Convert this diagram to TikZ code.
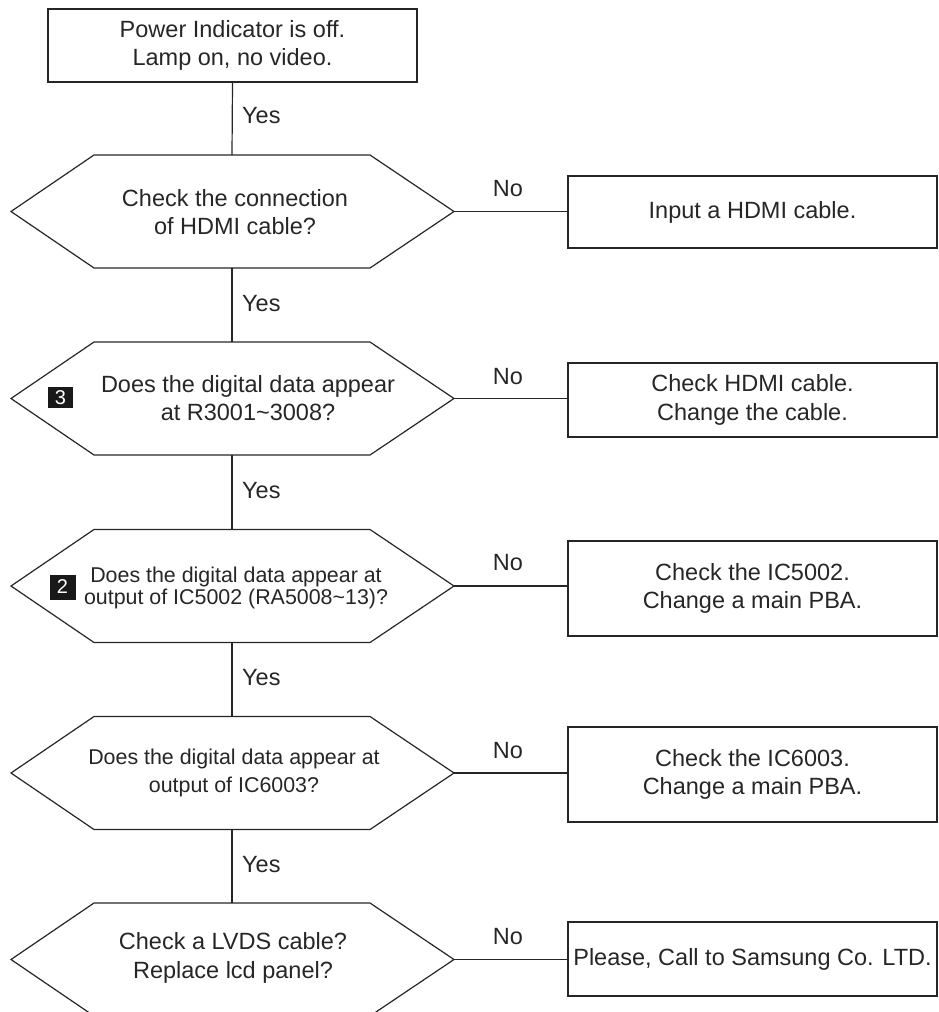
\documentclass[tikz,border=0pt]{standalone}
\usepackage{fontspec}
\setmainfont{Liberation Sans}
\definecolor{ink}{gray}{0.15}
\newcommand{\bigf}{\fontsize{23.5}{28.5}\selectfont}
\newcommand{\smf}{\fontsize{21.4}{22}\selectfont}
\newcommand{\smfb}{\fontsize{21.4}{28.3}\selectfont}
\newcommand{\mkhex}[2]{%
  \coordinate (#1-l) at (11,#2);
  \coordinate (#1-r) at (454,#2);
  \coordinate (#1-t) at (232,{#2-56.5});
  \coordinate (#1-b) at (232,{#2+56.5});
  \draw[line] (#1-l) -- ++(83,-56.5) -- ++(276,0) -- (#1-r) -- ++(-84,56.5) -- ++(-276,0) -- cycle;
}
\tikzset{
  line/.style={draw=ink, line width=1.2pt},
  txt/.style={text=ink, align=center, inner sep=0pt, font=\bigf},
  box/.style={draw=ink, line width=1.2pt, text=ink, align=center, inner sep=0pt, font=\bigf, minimum width=369pt},
  lbl/.style={text=ink, inner sep=0pt, font=\bigf},
  badge/.style={fill=black!90, text=white, inner sep=0pt, font=\fontsize{20}{20}\selectfont}
}
\begin{document}
\begin{tikzpicture}[x=1pt,y=-1pt]
\useasboundingbox (0,0) rectangle (938,1012);
\clip (0,0) rectangle (938,1012);

% start box
\node[box, minimum height=73pt] (start) at (232.5,45.5) {Power Indicator is off.\\Lamp on, no video.};

% decisions
\mkhex{h1}{211.5}
\mkhex{h2}{398.5}
\mkhex{h3}{586}
\mkhex{h4}{773}
\mkhex{h5}{959.5}

\node[txt] (q1) at (235,212) {Check the connection\\of HDMI cable?};
\node[txt] (q2) at (248,398) {Does the digital data appear\\at R3001\textasciitilde3008?};
\node[txt, font=\smf] (q3) at (236,588) {Does the digital data appear at\\output of IC5002 (RA5008\textasciitilde13)?};
\node[txt, font=\smfb] (q4) at (234,773) {Does the digital data appear at\\output of IC6003?};
\node[txt] (q5) at (233,958) {Check a LVDS cable?\\Replace lcd panel?};

\node[badge, minimum width=25pt, minimum height=21pt] (bd3) at (60.5,397.5) {3};
\node[badge, minimum width=26pt, minimum height=25pt] (bd2) at (62.5,587) {2};

% action boxes
\node[box, minimum height=72pt] (b1) at (752.5,212) {Input a HDMI cable.};
\node[box, minimum height=74pt] (b2) at (752.5,400) {Check HDMI cable.\\Change the cable.};
\node[box, minimum height=95pt] (b3) at (752.5,588.5) {Check the IC5002.\\Change a main PBA.};
\node[box, minimum height=95pt] (b4) at (752.5,774.5) {Check the IC6003.\\Change a main PBA.};
\node[box, minimum height=74pt] (b5) at (752.5,959) {Please, Call to Samsung Co. LTD.};

% vertical Yes connectors
\draw[line] (start.south) -- (h1-t);
\draw[line] (h1-b) -- (h2-t);
\draw[line] (h2-b) -- (h3-t);
\draw[line] (h3-b) -- (h4-t);
\draw[line] (h4-b) -- (h5-t);

\node[lbl, anchor=west] (y1) at (242,116) {Yes};
\node[lbl, anchor=west] (y2) at (242,304) {Yes};
\node[lbl, anchor=west] (y3) at (242,491) {Yes};
\node[lbl, anchor=west] (y4) at (242,678) {Yes};
\node[lbl, anchor=west] (y5) at (242,865) {Yes};

% horizontal No connectors
\draw[line] (h1-r) -- (b1.west |- h1-r);
\draw[line] (h2-r) -- (b2.west |- h2-r);
\draw[line] (h3-r) -- (b3.west |- h3-r);
\draw[line] (h4-r) -- (b4.west |- h4-r);
\draw[line] (h5-r) -- (b5.west |- h5-r);

\node[lbl] (n1) at (508,189) {No};
\node[lbl] (n2) at (508,377) {No};
\node[lbl] (n3) at (508,563) {No};
\node[lbl] (n4) at (508,751) {No};
\node[lbl] (n5) at (508,937) {No};
\end{tikzpicture}
\end{document}
